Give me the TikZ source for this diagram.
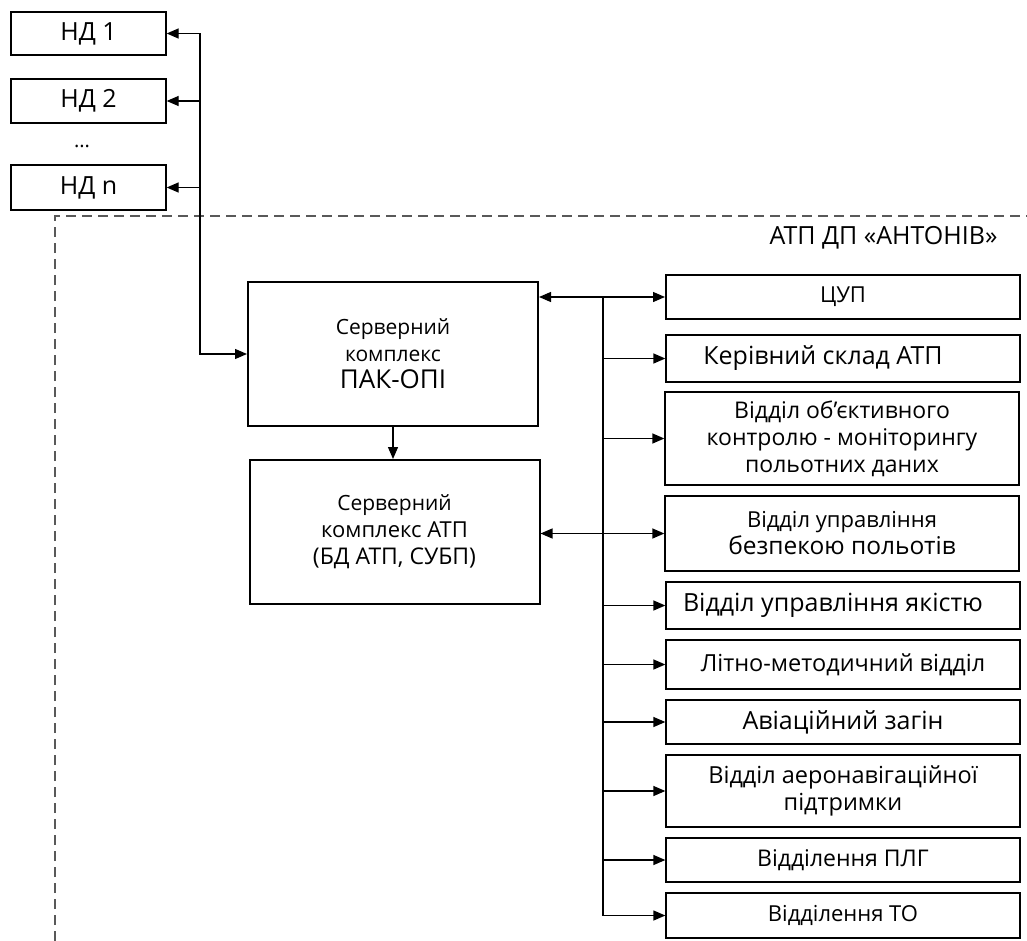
\documentclass[tikz,border=0pt]{standalone}
\usepackage{fontspec}
\setmainfont{Open Sans}
\usetikzlibrary{arrows.meta}

\newcommand{\fs}[1]{\fontsize{#1}{27}\selectfont}

\begin{document}
\begin{tikzpicture}[x=1pt,y=-1pt,
    box/.style={draw,line width=1.3pt,inner sep=0pt,align=center,font=\fs{21}},
    mainbox/.style={box,line width=2pt,minimum width=290pt,minimum height=144pt},
    rbox/.style={box,minimum width=354pt},
    arr/.style={-{Triangle[length=12pt,width=10pt]},line width=1.3pt},
    darr/.style={{Triangle[length=12pt,width=10pt]}-{Triangle[length=12pt,width=10pt]},line width=1.3pt}]
        \useasboundingbox (0,0) rectangle (1027,941);

        % nodes outside
        \node[box,minimum width=155pt,minimum height=43pt,font=\fs{25}] (nd1) at (88.5,33.5) {НД 1};
        \node[box,minimum width=155pt,minimum height=44pt,font=\fs{25}] (nd2) at (88.5,101) {НД 2};
        \node[font=\fs{20}] (dots) at (82,146) {...};
        \node[box,minimum width=155pt,minimum height=45pt,font=\fs{25}] (ndn) at (88.5,187.5) {НД n};

        % frame
        \draw[dashed,gray!70!black,line width=1.3pt,dash pattern=on 10pt off 6pt] (55,941) -- (55,216) -- (1027,216);
        \node[anchor=east,font=\fs{25}] (title) at (1001,238) {АТП ДП «АНТОНІВ»};

        % servers
        \node[mainbox,font=\fs{21}] (srv) at (393,354) {Серверний\\ комплекс\\ \fs{26}ПАК-ОПІ};
        \node[mainbox,font=\fs{22}] (db) at (394.5,532) {\fs{21}Серверний\\ комплекс АТП\\ \fs{23}(БД АТП, СУБП)};

        % departments
        \node[rbox,line width=2pt,minimum height=44pt,font=\fs{22}] (cup) at (843,297) {ЦУП};
        \node[rbox,minimum height=47pt,font=\fs{25}] (ker) at (843,358.5) {Керівний склад АТП\hspace*{40pt}};
        \node[rbox,minimum height=93pt,font=\fs{23}] (obj) at (842,438.5) {Відділ об'єктивного\\ контролю - моніторингу\\ польотних даних};
        \node[rbox,minimum height=75pt,font=\fs{22}] (bez) at (842,533.5) {Відділ управління\\ \fs{24.5}безпекою польотів};
        \node[rbox,minimum height=47pt,font=\fs{25}] (yak) at (843,605.5) {Відділ управління якістю\hspace*{20pt}};
        \node[rbox,minimum height=49pt,font=\fs{23.5}] (lit) at (843,664.5) {Літно-методичний відділ};
        \node[rbox,minimum height=44pt,font=\fs{25}] (avi) at (843,722) {Авіаційний загін};
        \node[rbox,minimum height=72pt,font=\fs{23.5}] (aer) at (843,791) {Відділ аеронавігаційної\\ підтримки};
        \node[rbox,minimum height=44pt,font=\fs{23}] (plg) at (843,860) {Відділення ПЛГ};
        \node[rbox,minimum height=45pt,font=\fs{22}] (to) at (843,915.5) {Відділення ТО};

        % left bus
        \coordinate (lb) at (200,0);
        \draw[arr] (lb |- nd1.east) -- (nd1.east);
        \draw[arr] (lb |- nd2.east) -- (nd2.east);
        \draw[arr] (lb |- ndn.east) -- (ndn.east);
        \draw[arr] (lb |- nd1.east) |- (srv.west);
        \draw[arr] (srv.south) -- (srv.south |- db.north);

        % right bus
        \coordinate (rb) at (603,0);
        \draw[darr] (srv.east |- cup.west) -- (cup.west);
        \draw[darr] (db.east |- bez.west) -- (bez.west);
        \draw[line width=1.3pt] (rb |- cup.west) -- (rb |- to.west);
        \foreach \n in {ker,obj,yak,lit,avi,aer,plg,to}
            \draw[arr] (rb |- \n.west) -- (\n.west);
\end{tikzpicture}
\end{document}
